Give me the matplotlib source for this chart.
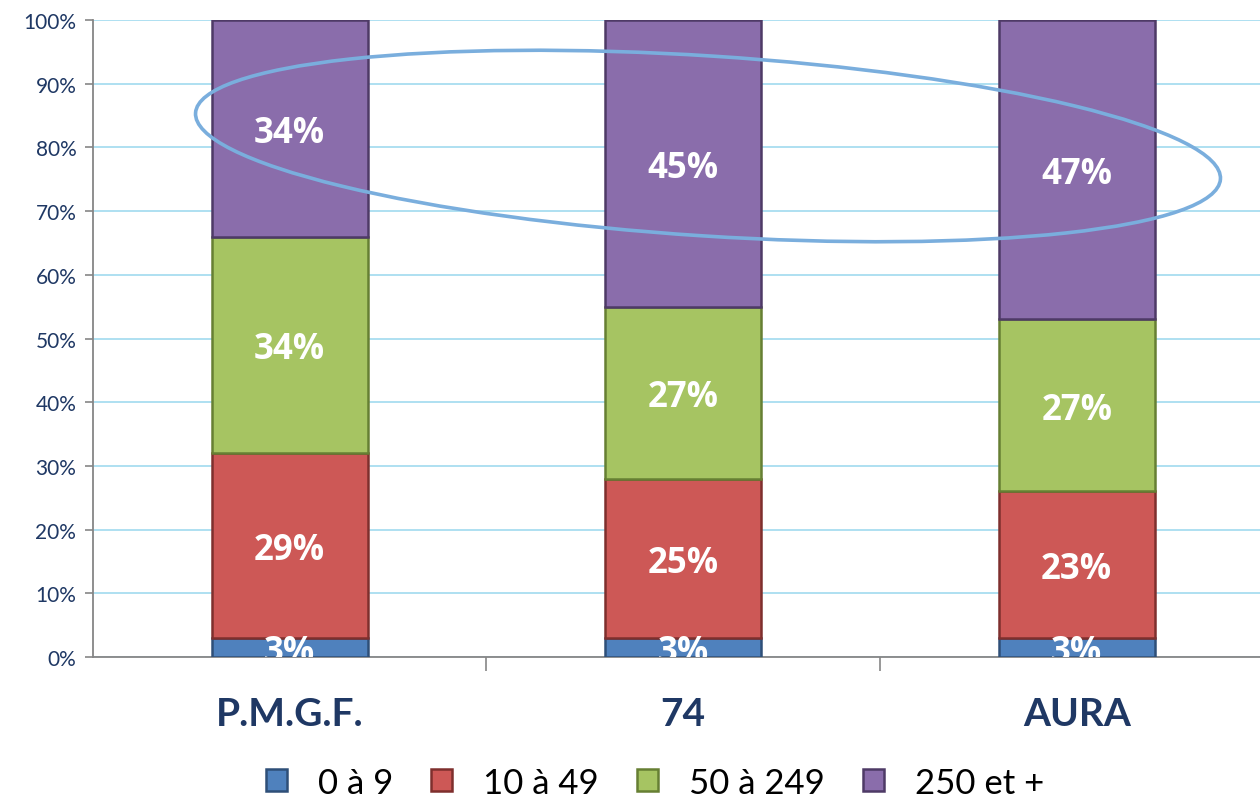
import matplotlib
matplotlib.use("Agg")
import matplotlib.pyplot as plt
from matplotlib.patches import Ellipse
import numpy as np

categories = ["P.M.G.F.", "74", "AURA"]
series_names = ["0 à 9", "10 à 49", "50 à 249", "250 et +"]
s_0_9 = [3, 3, 3]
s_10_49 = [29, 25, 23]
s_50_249 = [34, 27, 27]
s_250 = [34, 45, 47]
yticks = [0, 10, 20, 30, 40, 50, 60, 70, 80, 90, 100]
ytick_labels = [f"{v}%" for v in yticks]

colors = ["#4F81BD", "#CD5856", "#A6C462", "#8A6DAB"]
edges = ["#2E4F78", "#7E2F2D", "#667F33", "#4E3A66"]
navy = "#1F3864"

plt.rcParams['font.family'] = ['Lato', 'DejaVu Sans']

fig = plt.figure(figsize=(12.6, 8.03), dpi=100)
ax = fig.add_axes([0.0738, 0.1806, 1.0107 - 0.0738, 0.9738 - 0.1806])

x = np.arange(len(categories))
width = 0.397
series = [s_0_9, s_10_49, s_50_249, s_250]
bottom = np.zeros(len(categories))
for vals, c, ec, name in zip(series, colors, edges, series_names):
    vals = np.array(vals, dtype=float)
    ax.bar(x, vals, width, bottom=bottom, color=c, edgecolor=ec, linewidth=1.8,
           label=name, zorder=3)
    for xi, b, v in zip(x, bottom, vals):
        ax.text(xi, b + v / 2, f"{int(v)}%", ha="center", va="center_baseline",
                color="white", fontsize=25, fontweight="bold", zorder=5,
                family=['Open Sans', 'DejaVu Sans'], clip_on=True)
    bottom += vals

ax.set_xlim(-0.5, 2.5)
ax.set_ylim(0, 100)
ax.set_yticks(yticks)
ax.set_yticklabels(ytick_labels, fontsize=15, color=navy)
ax.yaxis.grid(True, color="#A8DDF0", linewidth=1.3, zorder=0)
ax.set_axisbelow(True)

ax.set_xticks(x)
ax.set_xticklabels(categories, fontsize=28, fontweight="bold", color=navy)
ax.tick_params(axis="x", which="major", length=0, pad=28)
ax.set_xticks([0.5, 1.5, 2.5], minor=True)
ax.tick_params(axis="x", which="minor", length=10, color="#868686", width=1.2)
ax.tick_params(axis="y", length=6, color="#868686", width=1.2, pad=6)

for s in ["top", "right"]:
    ax.spines[s].set_visible(False)
for s in ["left", "bottom"]:
    ax.spines[s].set_color("#868686")
    ax.spines[s].set_linewidth(1.3)

ell = Ellipse((7.08, 8.03 - 1.47), 10.27, 1.80, angle=-3.7,
              transform=fig.dpi_scale_trans, fill=False,
              edgecolor="#7AAEDD", linewidth=2.6, zorder=10)
fig.add_artist(ell)

leg = fig.legend(loc="lower center", bbox_to_anchor=(0.52, 0.0), ncol=4, frameon=False,
                 handlelength=0.6, handleheight=0.6, columnspacing=1.1,
                 handletextpad=0.9, borderaxespad=0.0, borderpad=0.1,
                 prop={'family': ['Lato', 'DejaVu Sans'], 'size': 25})

fig.savefig("out.png", dpi=100)
